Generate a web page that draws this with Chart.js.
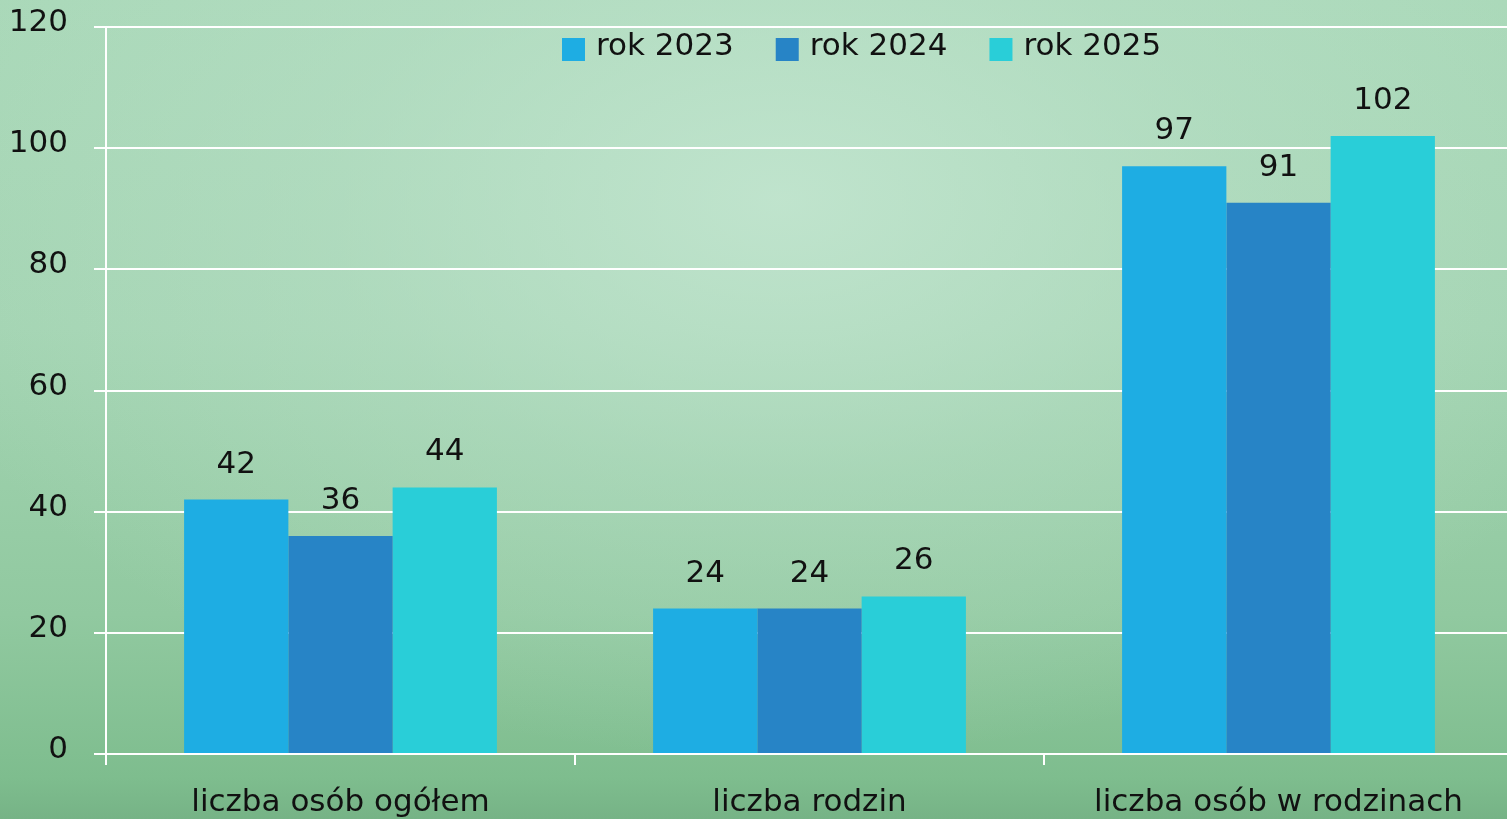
<!DOCTYPE html>
<html>
<head>
<meta charset="utf-8">
<script src="https://cdn.jsdelivr.net/npm/chart.js@4.4.1/dist/chart.umd.min.js"></script>
<style>
  html, body { margin: 0; padding: 0; overflow: hidden; }
  body {
    width: 1507px; height: 819px;
    background:
      radial-gradient(ellipse 900px 560px at 780px 200px, rgba(196, 230, 209, 0.85) 0%, rgba(190, 226, 204, 0.4) 50%, rgba(170, 215, 185, 0) 100%),
      linear-gradient(to bottom, #a9d8b8 0%, #a3d4b2 40%, #91c9a0 75%, #7ebd8e 95%, #76b386 100%);
  }
  #wrap { width: 1514px; height: 819px; position: relative; }
</style>
</head>
<body>
<div id="wrap"><canvas id="chart"></canvas></div>
<script>
const categories = ['liczba osób ogółem', 'liczba rodzin', 'liczba osób w rodzinach'];
const seriesNames = ['rok 2023', 'rok 2024', 'rok 2025'];
const values2023 = [42, 24, 97];
const values2024 = [36, 24, 91];
const values2025 = [44, 26, 102];
const yTicks = [0, 20, 40, 60, 80, 100, 120];

const colors = ['#1eade3', '#2784c6', '#29ced8'];
const FONT = '"DejaVu Sans", sans-serif';
const FSIZE = 31;

// value labels above the bars
const valueLabels = {
  id: 'valueLabels',
  afterDatasetsDraw(chart) {
    const ctx = chart.ctx;
    ctx.save();
    ctx.font = FSIZE + 'px ' + FONT;
    ctx.fillStyle = '#111';
    ctx.textAlign = 'center';
    ctx.textBaseline = 'alphabetic';
    chart.data.datasets.forEach((ds, i) => {
      chart.getDatasetMeta(i).data.forEach((bar, j) => {
        ctx.fillText(ds.data[j], bar.x, bar.y - 27);
      });
    });
    ctx.restore();
  }
};

// legend drawn inside the plot, like the original
const innerLegend = {
  id: 'innerLegend',
  afterDraw(chart) {
    const ctx = chart.ctx;
    ctx.save();
    ctx.font = FSIZE + 'px ' + FONT;
    ctx.textBaseline = 'middle';
    ctx.textAlign = 'left';
    let x = 562;
    const y = 48;
    chart.data.datasets.forEach(ds => {
      ctx.fillStyle = ds.backgroundColor;
      ctx.fillRect(x, y - 10, 23, 23);
      ctx.fillStyle = '#111';
      ctx.fillText(ds.label, x + 34, y - 1);
      x += 34 + ctx.measureText(ds.label).width + 42;
    });
    ctx.restore();
  }
};

const ctx = document.getElementById('chart').getContext('2d');

const datasets = [values2023, values2024, values2025].map((d, i) => ({
  label: seriesNames[i],
  data: d,
  backgroundColor: colors[i],
  borderWidth: 0,
  barPercentage: 1.0,
  categoryPercentage: 0.667
}));

new Chart(ctx, {
  type: 'bar',
  data: {
    labels: categories,
    datasets: datasets
  },
  options: {
    responsive: true,
    maintainAspectRatio: false,
    animation: false,
    layout: {
      padding: { top: 27, right: 1, left: 0, bottom: 0 }
    },
    plugins: {
      legend: { display: false },
      tooltip: { enabled: false }
    },
    scales: {
      x: {
        grid: {
          offset: true,
          drawOnChartArea: false,
          drawTicks: true,
          tickLength: 11,
          color: '#ffffff',
          lineWidth: 2
        },
        border: { display: true, color: '#ffffff', width: 2 },
        ticks: {
          color: '#111',
          font: { family: FONT, size: FSIZE },
          padding: 19,
          maxRotation: 0
        },
        afterFit(scale) {
          scale.height = 65;
          scale.paddingLeft = 0;
          scale.paddingRight = 0;
        }
      },
      y: {
        min: 0,
        max: 120,
        afterBuildTicks(scale) {
          scale.ticks = yTicks.map(v => ({ value: v }));
        },
        grid: {
          color: '#ffffff',
          lineWidth: 2,
          tickLength: 12
        },
        border: { display: true, color: '#ffffff', width: 2 },
        ticks: {
          color: '#111',
          font: { family: FONT, size: FSIZE },
          padding: 26,
          labelOffset: -4
        },
        afterFit(scale) {
          scale.width = 106;
          scale.paddingTop = 0;
          scale.paddingBottom = 0;
        }
      }
    }
  },
  plugins: [valueLabels, innerLegend]
});
</script>
</body>
</html>
